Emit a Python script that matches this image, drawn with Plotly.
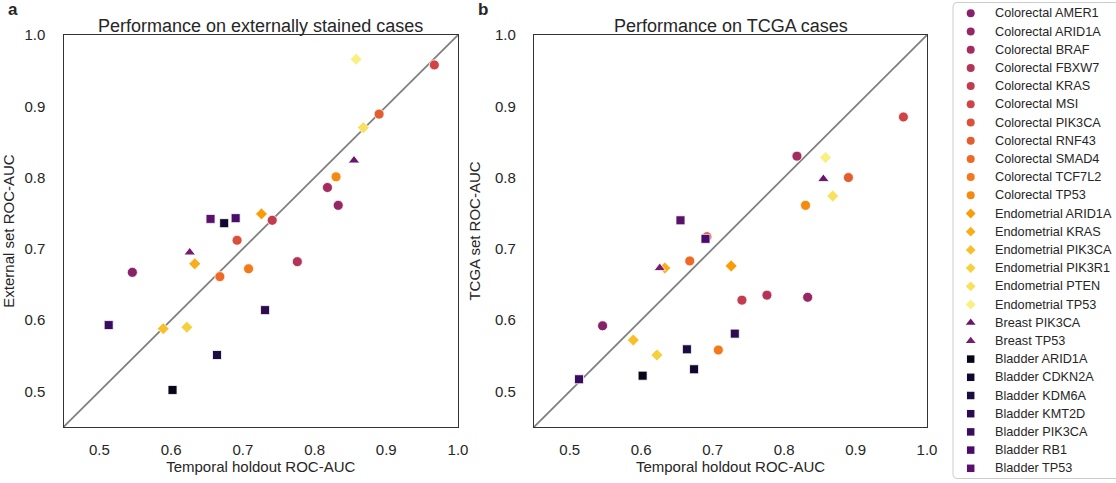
import plotly.graph_objects as go
from plotly.colors import sample_colorscale

W, H = 1116, 483

# Cancer type / target for each model, in legend order
labels = [
    "Colorectal AMER1", "Colorectal ARID1A", "Colorectal BRAF", "Colorectal FBXW7",
    "Colorectal KRAS", "Colorectal MSI", "Colorectal PIK3CA", "Colorectal RNF43",
    "Colorectal SMAD4", "Colorectal TCF7L2", "Colorectal TP53",
    "Endometrial ARID1A", "Endometrial KRAS", "Endometrial PIK3CA",
    "Endometrial PIK3R1", "Endometrial PTEN", "Endometrial TP53",
    "Breast PIK3CA", "Breast TP53",
    "Bladder ARID1A", "Bladder CDKN2A", "Bladder KDM6A", "Bladder KMT2D",
    "Bladder PIK3CA", "Bladder RB1", "Bladder TP53",
]

# ROC-AUC on the temporal holdout set (x of both panels)
temporal_auc = [
    0.546, 0.833, 0.818, 0.776, 0.741, 0.967, 0.692, 0.890, 0.668, 0.708, 0.830,
    0.726, 0.633, 0.589, 0.622, 0.868, 0.858,
    0.855, 0.626,
    0.602, 0.674, 0.664, 0.731, 0.513, 0.690, 0.655,
]

# ROC-AUC on externally stained cases (panel a)
external_auc = [
    0.667, 0.761, 0.786, 0.682, 0.740, 0.958, 0.712, 0.889, 0.661, 0.672, 0.801,
    0.749, 0.679, 0.588, 0.590, 0.870, 0.966,
    0.824, 0.695,
    0.502, 0.736, 0.551, 0.614, 0.593, 0.743, 0.742,
]

# ROC-AUC on TCGA cases (panel b)
tcga_auc = [
    0.592, 0.632, 0.830, 0.635, 0.628, 0.885, 0.717, 0.800, 0.683, 0.558, 0.761,
    0.676, 0.673, 0.572, 0.551, 0.774, 0.828,
    0.798, 0.673,
    0.522, 0.531, 0.559, 0.581, 0.517, 0.714, 0.740,
]

tick_vals = [0.5, 0.6, 0.7, 0.8, 0.9, 1.0]
axis_range = [0.45, 1.0]

symbols = {"Colorectal": "circle", "Endometrial": "diamond",
           "Breast": "triangle-up", "Bladder": "square"}
plot_sizes = {"circle": 10, "diamond": 9.2, "triangle-up": 10, "square": 9}
legend_sizes = {"circle": 8, "diamond": 7.5, "triangle-up": 8.5, "square": 7.5}

# inferno palette assigned in alphabetical order of the labels
order = sorted(labels)
n = len(labels)
colors = {lab: sample_colorscale("Inferno", [(order.index(lab) + 1) / (n + 1)])[0]
          for lab in labels}

FONT = "Liberation Sans, Arial, sans-serif"
TXT = "#262626"


def fx(px):
    return px / W


def fy(py):
    return 1 - py / H


fig = go.Figure()

panels = [("x", "y", external_auc), ("x2", "y2", tcga_auc)]
for xa, ya, yvals in panels:
    fig.add_trace(go.Scatter(
        x=axis_range, y=axis_range, mode="lines", xaxis=xa, yaxis=ya,
        line=dict(color="#808080", width=1.8), showlegend=False, hoverinfo="skip"))
    for lab, xv, yv in zip(labels, temporal_auc, yvals):
        sym = symbols[lab.split()[0]]
        fig.add_trace(go.Scatter(
            x=[xv], y=[yv], mode="markers", name=lab, xaxis=xa, yaxis=ya,
            showlegend=False,
            marker=dict(symbol=sym, size=plot_sizes[sym], color=colors[lab],
                        opacity=1, line=dict(color="white", width=0.8))))

# legend drawn on its own pixel-scaled axis
leg_left = 953
row0, row_step = 13.3, 18.2
leg_y = [row0 + row_step * i for i in range(n)]
fig.add_trace(go.Scatter(
    x=[17.7] * n, y=leg_y, mode="markers", xaxis="x3", yaxis="y3",
    showlegend=False, hoverinfo="skip",
    marker=dict(symbol=[symbols[l.split()[0]] for l in labels],
                size=[legend_sizes[symbols[l.split()[0]]] for l in labels],
                color=[colors[l] for l in labels], opacity=1,
                line=dict(width=0))))

annotations = []
for lab, yv in zip(labels, leg_y):
    annotations.append(dict(
        x=40, y=yv, xref="x3", yref="y3", text=lab, showarrow=False,
        xanchor="left", yanchor="middle",
        font=dict(family=FONT, size=12.7, color=TXT)))

titles = [("x", "y", "Performance on externally stained cases"),
          ("x2", "y2", "Performance on TCGA cases")]
for xa, ya, t in titles:
    annotations.append(dict(
        x=0.5, y=1, xref=f"{xa} domain", yref=f"{ya} domain", text=t,
        showarrow=False, xanchor="center", yanchor="bottom", yshift=-3,
        font=dict(family=FONT, size=18, color=TXT)))

for letter, px in [("a", 13), ("b", 483)]:
    annotations.append(dict(
        x=fx(px), y=fy(10), xref="paper", yref="paper", text=f"<b>{letter}</b>",
        showarrow=False, xanchor="center", yanchor="middle",
        font=dict(family=FONT, size=17, color=TXT)))

# rounded legend frame
r = 4
x0p, x1p, y0p, y1p = leg_left, W + 10, 2.5, 478.5
path = (f"M {fx(x0p + r)},{fy(y0p)} L {fx(x1p)},{fy(y0p)} L {fx(x1p)},{fy(y1p)} "
        f"L {fx(x0p + r)},{fy(y1p)} Q {fx(x0p)},{fy(y1p)} {fx(x0p)},{fy(y1p - r)} "
        f"L {fx(x0p)},{fy(y0p + r)} Q {fx(x0p)},{fy(y0p)} {fx(x0p + r)},{fy(y0p)} Z")
shapes = [dict(type="path", path=path, xref="paper", yref="paper",
               line=dict(color="#cccccc", width=1), fillcolor="rgba(0,0,0,0)",
               layer="below")]

axis_common = dict(
    range=axis_range, tickvals=tick_vals, tickformat=".1f",
    showgrid=False, zeroline=False, showline=True, mirror=True,
    linecolor="#333333", linewidth=1.25, ticks="", automargin=False,
    tickfont=dict(family=FONT, size=15, color=TXT))
x_common = dict(ticklabelstandoff=9, **axis_common)
y_common = dict(ticklabelstandoff=14, **axis_common)
title_font = dict(family=FONT, size=15, color=TXT)

y_dom = [fy(427), fy(35)]
fig.update_layout(
    width=W, height=H,
    margin=dict(l=0, r=0, t=0, b=0),
    paper_bgcolor="white", plot_bgcolor="white",
    font=dict(family=FONT, color=TXT),
    showlegend=False,
    xaxis=dict(domain=[fx(63.5), fx(458)], anchor="y",
               title=dict(text="Temporal holdout ROC-AUC", standoff=2, font=title_font),
               **x_common),
    yaxis=dict(domain=y_dom, anchor="x",
               title=dict(text="External set ROC-AUC", standoff=10, font=title_font),
               **y_common),
    xaxis2=dict(domain=[fx(534), fx(927)], anchor="y2",
                title=dict(text="Temporal holdout ROC-AUC", standoff=2, font=title_font),
                **x_common),
    yaxis2=dict(domain=y_dom, anchor="x2",
                title=dict(text="TCGA set ROC-AUC", standoff=10, font=title_font),
                **y_common),
    xaxis3=dict(domain=[fx(leg_left), 1], anchor="y3", range=[0, W - leg_left],
                visible=False, fixedrange=True),
    yaxis3=dict(domain=[0, 1], anchor="x3", range=[H, 0],
                visible=False, fixedrange=True),
    annotations=annotations,
    shapes=shapes,
)

fig.write_html("out.html")
